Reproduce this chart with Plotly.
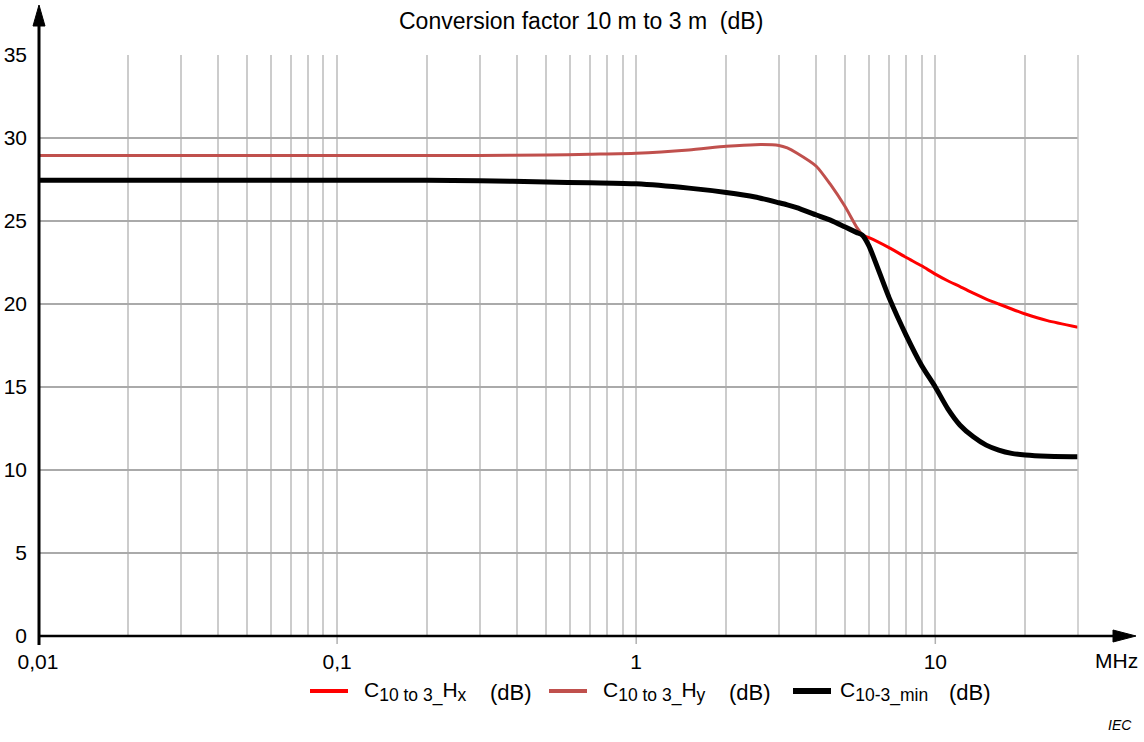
import plotly.graph_objects as go

# Conversion factor C(10 m -> 3 m), magnetic field components Hx, Hy and their minimum
freq_mhz = [0.01, 0.02, 0.05, 0.1, 0.2, 0.3, 0.5, 0.7, 1.0, 1.5, 2.0, 2.5, 3.0,
            3.2, 3.44, 4.0, 4.46, 4.98, 5.47, 5.7, 6.0, 7.0, 8.0, 9.0, 10.0, 11.0,
            12.1, 13.4, 14.8, 16.3, 18.0, 20.0, 23.7, 30.0]

c_hx_db = [27.45, 27.45, 27.45, 27.45, 27.45, 27.43, 27.35, 27.3, 27.24, 26.98,
           26.72, 26.45, 26.1, 25.97, 25.8, 25.36, 25.05, 24.65, 24.3, 24.15,
           24.0, 23.4, 22.8, 22.3, 21.8, 21.4, 21.05, 20.65, 20.3, 20.0, 19.7,
           19.4, 19.0, 18.6]

c_hy_db = [28.95, 28.95, 28.95, 28.95, 28.95, 28.95, 28.97, 29.02, 29.08, 29.28,
           29.5, 29.6, 29.55, 29.4, 29.1, 28.3, 27.2, 25.9, 24.6, 24.15, 23.5,
           20.4, 18.1, 16.3, 15.0, 13.7, 12.7, 12.0, 11.5, 11.2, 11.0, 10.9,
           10.83, 10.8]

c_min_db = [27.45, 27.45, 27.45, 27.45, 27.45, 27.43, 27.35, 27.3, 27.24, 26.98,
            26.72, 26.45, 26.1, 25.97, 25.8, 25.36, 25.05, 24.65, 24.3, 24.15,
            23.5, 20.4, 18.1, 16.3, 15.0, 13.7, 12.7, 12.0, 11.5, 11.2, 11.0,
            10.9, 10.83, 10.8]

decade_ticks = [0.01, 0.1, 1, 10]
decade_labels = ["0,01", "0,1", "1", "10"]
grid_freqs = [m * 10 ** e for e in (-2, -1, 0, 1) for m in range(1, 10) if m * 10 ** e <= 30]
y_ticks = [0, 5, 10, 15, 20, 25, 30, 35]

SUB = "<sub><span style='font-size:17.5px'>{}</span></sub>"
series_names = [
    "C" + SUB.format("10 to 3_") + "H" + SUB.format("x"),
    "C" + SUB.format("10 to 3_") + "H" + SUB.format("y"),
    "C" + SUB.format("10-3_min"),
]
series_colors = ["#ff0000", "#c0504d", "#000000"]
series_widths = [3, 3, 5]

FONT = "Liberation Sans, Arial, sans-serif"

fig = go.Figure()
for vals, name, color, width in zip((c_hx_db, c_hy_db, c_min_db), series_names,
                                    series_colors, series_widths):
    fig.add_trace(go.Scatter(
        x=freq_mhz, y=vals, mode="lines", name=name, showlegend=False,
        line=dict(color=color, width=width, shape="spline", smoothing=0.6)))

L, R, T, B = 38, 66, 55, 106
W, H = 1144, 742
PW, PH = W - L - R, H - T - B


def px(xp):
    return (xp - L) / PW


def py(yp):
    return (H - B - yp) / PH


shapes = []
# decade tick marks below the x axis
for f in decade_ticks[1:]:
    shapes.append(dict(type="line", xref="x", yref="paper", x0=f, x1=f,
                       y0=0, y1=py(644), line=dict(color="#b0b0b0", width=1.5)))
# right border of the plotting area
shapes.append(dict(type="line", xref="paper", yref="paper", x0=1, x1=1, y0=0, y1=1,
                   line=dict(color="#c4c4c4", width=1.5)))
# y axis with arrow
shapes.append(dict(type="line", xref="paper", yref="paper", x0=px(39), x1=px(39),
                   y0=py(645), y1=py(20), line=dict(color="black", width=3)))
shapes.append(dict(type="path", xref="paper", yref="paper",
                   path=f"M {px(33)} {py(26)} L {px(39)} {py(5)} L {px(45)} {py(26)} Z",
                   fillcolor="black", line=dict(color="black", width=1)))
# x axis with arrow
shapes.append(dict(type="line", xref="paper", yref="paper", x0=px(38), x1=px(1120),
                   y0=py(636), y1=py(636), line=dict(color="black", width=2.5)))
shapes.append(dict(type="path", xref="paper", yref="paper",
                   path=f"M {px(1113)} {py(630)} L {px(1136)} {py(636)} L {px(1113)} {py(642)} Z",
                   fillcolor="black", line=dict(color="black", width=1)))

annotations = [
    dict(text="Conversion factor 10 m to 3 m&nbsp;&nbsp;(dB)", xref="paper", yref="paper",
         x=px(581), y=py(21), xanchor="center", yanchor="middle", showarrow=False,
         font=dict(size=23, color="black", family=FONT)),
    dict(text="MHz", xref="paper", yref="paper", x=px(1140), y=py(661),
         xanchor="right", yanchor="middle", showarrow=False,
         font=dict(size=21, color="black", family=FONT)),
    dict(text="<i>IEC</i>", xref="paper", yref="paper", x=px(1134), y=py(725),
         xanchor="right", yanchor="middle", showarrow=False,
         font=dict(size=14, color="black", family=FONT)),
]

# legend: line sample, symbol label, unit
legend_items = [(310, 348, 362, 488), (549, 587, 601, 727), (793, 831, 838, 947)]
for (x0, x1, xt, xu), name, color, width in zip(legend_items, series_names,
                                                series_colors, series_widths):
    shapes.append(dict(type="line", xref="paper", yref="paper",
                       x0=px(x0), x1=px(x1), y0=py(691), y1=py(691),
                       line=dict(color=color, width=width + 1)))
    annotations.append(dict(text=name, xref="paper", yref="paper", x=px(xt), y=py(692),
                            xanchor="left", yanchor="middle", showarrow=False,
                            font=dict(size=21, color="black", family=FONT)))
    annotations.append(dict(text="(dB)", xref="paper", yref="paper", x=px(xu), y=py(692),
                            xanchor="left", yanchor="middle", showarrow=False,
                            font=dict(size=22, color="black", family=FONT)))

fig.update_layout(
    width=W, height=H,
    margin=dict(l=L, r=R, t=T, b=B, autoexpand=False),
    paper_bgcolor="white", plot_bgcolor="white",
    font=dict(family=FONT, size=21, color="black"),
    showlegend=False,
    shapes=shapes,
    annotations=annotations,
)

fig.update_xaxes(
    type="log", range=[-2, 1.4771], automargin=False,
    tickmode="array", tickvals=grid_freqs,
    ticktext=[decade_labels[decade_ticks.index(f)] if f in decade_ticks else "" for f in grid_freqs],
    ticks="", ticklabelstandoff=11,
    showgrid=True, gridcolor="#cccccc", gridwidth=1.5,
    showline=False, zeroline=False,
    tickfont=dict(size=21, family=FONT),
)
fig.update_yaxes(
    range=[0, 35], tickmode="array", tickvals=y_ticks, automargin=False,
    ticks="", ticklabelstandoff=10,
    showgrid=True, gridcolor="#aaaaaa", gridwidth=1.5,
    showline=False, zeroline=False,
    tickfont=dict(size=21, family=FONT),
)

fig.write_html("out.html")
